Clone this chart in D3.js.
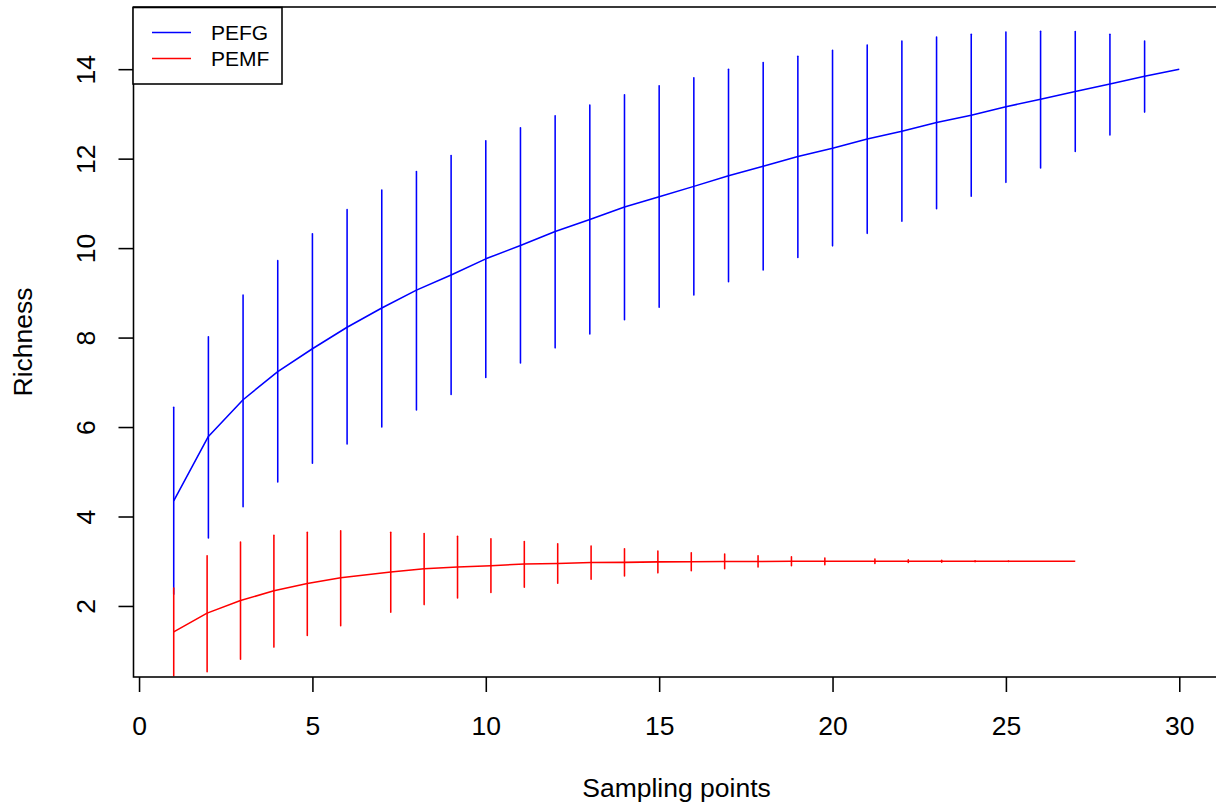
<!DOCTYPE html>
<html>
<head>
<meta charset="utf-8">
<script src="https://d3js.org/d3.v7.min.js"></script>
<style>
  body { margin: 0; background: #fff; }
  svg { display: block; font-family: "Liberation Sans", Arial, sans-serif; }
</style>
</head>
<body>
<div id="chart"></div>
<script>
// sampling points and richness
const pefgX = [1,2,3,4,5,6,7,8,9,10,11,12,13,14,15,16,17,18,19,20,21,22,23,24,25,26,27,28,29,30];
const pefgMean  = [4.35,5.79,6.61,7.24,7.75,8.23,8.66,9.06,9.40,9.76,10.06,10.37,10.64,10.92,11.15,11.38,11.62,11.83,12.05,12.23,12.44,12.61,12.81,12.97,13.16,13.33,13.50,13.67,13.84,14.0];
const pefgUpper = [6.44,8.02,8.95,9.72,10.32,10.86,11.30,11.71,12.07,12.40,12.69,12.96,13.20,13.43,13.63,13.81,14.0,14.15,14.29,14.42,14.54,14.63,14.72,14.78,14.83,14.85,14.84,14.78,14.63,14.0];
const pefgLower = [2.26,3.52,4.22,4.77,5.19,5.62,6.0,6.38,6.73,7.11,7.43,7.77,8.08,8.40,8.68,8.95,9.25,9.51,9.79,10.05,10.33,10.60,10.88,11.16,11.47,11.79,12.16,12.53,13.04,14.0];

const pemfX = [1,1.963,2.926,3.889,4.852,5.815,7.259,8.222,9.185,10.148,11.111,12.074,13.037,14.0,14.963,15.926,16.889,17.852,18.815,19.778,21.222,22.185,23.148,24.111,25.074,26.037,27.0];
const pemfMean  = [1.42,1.84,2.12,2.34,2.50,2.63,2.76,2.83,2.87,2.90,2.94,2.95,2.97,2.975,2.985,2.99,2.995,2.995,3.0,3.0,3.0,3.0,3.0,3.0,3.0,3.0,3.0];
const pemfUpper = [2.40,3.12,3.43,3.58,3.65,3.68,3.65,3.62,3.56,3.50,3.44,3.39,3.34,3.28,3.23,3.19,3.16,3.12,3.10,3.07,3.05,3.03,3.02,3.01,3.005,3.0,3.0];
const pemfLower = [0.44,0.53,0.81,1.08,1.34,1.56,1.86,2.03,2.18,2.30,2.42,2.51,2.60,2.67,2.74,2.79,2.83,2.87,2.90,2.92,2.95,2.97,2.98,2.99,2.995,3.0,3.0];

const xTicks = [0,5,10,15,20,25,30];
const yTicks = [2,4,6,8,10,12,14];
const seriesNames = ["PEFG", "PEMF"];
const seriesColors = ["#0000ff", "#ff0000"];

const width = 1216, height = 807;
const lwd = 1.56;
const axisFont = "26.5px";

const svg = d3.select("#chart").append("svg")
  .attr("width", width)
  .attr("height", height);

// plot region (right edge falls just outside the picture, like the original)
const plot = {left: 133.5, right: 1219.5, top: 7, bottom: 677};

const x = d3.scaleLinear().domain([-0.16, 31.16]).range([plot.left, plot.right]);
const y = d3.scaleLinear().domain([0.412, 15.39]).range([plot.bottom, plot.top]);

svg.append("clipPath").attr("id", "clip")
  .append("rect")
    .attr("x", plot.left).attr("y", plot.top)
    .attr("width", plot.right - plot.left)
    .attr("height", plot.bottom - plot.top);

const g = svg.append("g").attr("clip-path", "url(#clip)");

function drawSeries(xs, mean, lo, hi, color) {
  const pts = xs.map((d, i) => ({x: d, m: mean[i], lo: lo[i], hi: hi[i]}));
  g.append("path")
    .datum(pts)
    .attr("fill", "none")
    .attr("stroke", color)
    .attr("stroke-width", lwd)
    .attr("stroke-linejoin", "round")
    .attr("d", d3.line().x(d => x(d.x)).y(d => y(d.m)));
  g.append("g").selectAll("line")
    .data(pts.filter(d => d.hi > d.lo))
    .enter().append("line")
      .attr("x1", d => x(d.x)).attr("x2", d => x(d.x))
      .attr("y1", d => y(d.lo)).attr("y2", d => y(d.hi))
      .attr("stroke", color)
      .attr("stroke-width", lwd)
      .attr("stroke-linecap", "round");
}

drawSeries(pefgX, pefgMean, pefgLower, pefgUpper, seriesColors[0]);
drawSeries(pemfX, pemfMean, pemfLower, pemfUpper, seriesColors[1]);

// box
svg.append("rect")
  .attr("x", plot.left).attr("y", plot.top)
  .attr("width", plot.right - plot.left)
  .attr("height", plot.bottom - plot.top)
  .attr("fill", "none")
  .attr("stroke", "#000")
  .attr("stroke-width", lwd);

// X axis
const xAxis = svg.append("g")
  .attr("transform", "translate(0," + plot.bottom + ")")
  .call(d3.axisBottom(x).tickValues(xTicks).tickSize(15).tickPadding(0).tickSizeOuter(0));
xAxis.select(".domain").remove();
xAxis.selectAll(".tick line").attr("stroke", "#000").attr("stroke-width", lwd);
xAxis.selectAll(".tick text")
  .attr("y", 58).attr("dy", null)
  .attr("fill", "#000")
  .style("font-size", axisFont);

// Y axis, labels parallel to the axis
const yAxis = svg.append("g")
  .attr("transform", "translate(" + plot.left + ",0)")
  .call(d3.axisLeft(y).tickValues(yTicks).tickSize(15).tickSizeOuter(0));
yAxis.select(".domain").remove();
yAxis.selectAll(".tick line").attr("stroke", "#000").attr("stroke-width", lwd);
yAxis.selectAll(".tick text")
  .attr("x", null).attr("dy", null)
  .attr("text-anchor", "middle")
  .attr("transform", "translate(-39,0) rotate(-90)")
  .attr("fill", "#000")
  .style("font-size", axisFont);

// axis titles, centred on the plot region
svg.append("text")
  .attr("x", (plot.left + plot.right) / 2)
  .attr("y", 797)
  .attr("text-anchor", "middle")
  .style("font-size", axisFont)
  .text("Sampling points");

svg.append("text")
  .attr("transform", "translate(32," + ((plot.top + plot.bottom) / 2) + ") rotate(-90)")
  .attr("text-anchor", "middle")
  .style("font-size", axisFont)
  .text("Richness");

// legend
const legend = svg.append("g");
legend.append("rect")
  .attr("x", 133).attr("y", 7.5)
  .attr("width", 149).attr("height", 76.5)
  .attr("fill", "#fff")
  .attr("stroke", "#000")
  .attr("stroke-width", lwd);
seriesNames.forEach((name, i) => {
  const ly = 32.5 + i * 26;
  legend.append("line")
    .attr("x1", 152).attr("x2", 191)
    .attr("y1", ly).attr("y2", ly)
    .attr("stroke", seriesColors[i])
    .attr("stroke-width", lwd);
  legend.append("text")
    .attr("x", 211).attr("y", ly)
    .attr("dy", "0.36em")
    .style("font-size", "21px")
    .text(name);
});
</script>
</body>
</html>
